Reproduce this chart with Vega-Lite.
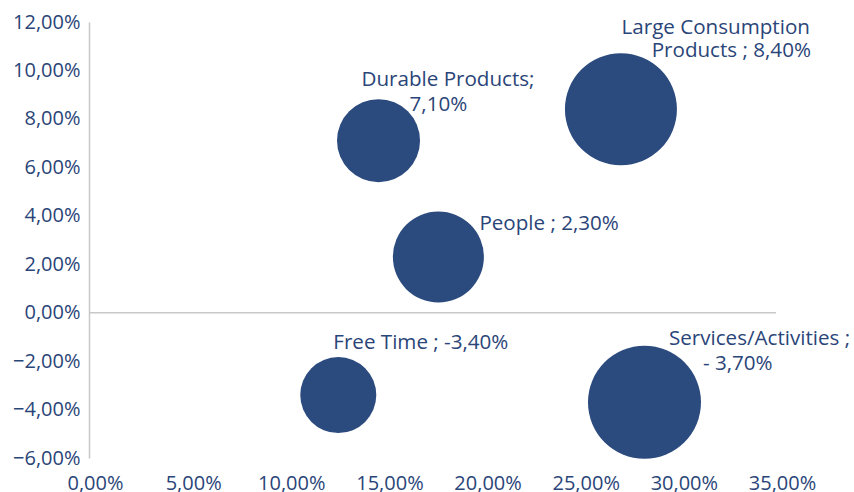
{
  "$schema": "https://vega.github.io/schema/vega-lite/v6.json",
  "width": 687,
  "height": 436,
  "autosize": {"type": "none"},
  "padding": {"left": 89, "top": 22, "right": 78, "bottom": 34},
  "background": "white",
  "config": {
    "view": {"stroke": null},
    "font": "Open Sans",
    "axis": {
      "grid": false,
      "ticks": false,
      "tickSize": 0,
      "labelFont": "Open Sans",
      "labelFontSize": 20,
      "labelColor": "#2A4578",
      "labelOverlap": false,
      "labelFlush": false,
      "title": null,
      "domainColor": "#C8C8C8",
      "domainWidth": 1.5
    },
    "text": {"fontSize": 20.6, "color": "#2A4578", "baseline": "alphabetic", "font": "Open Sans"}
  },
  "data": {
    "values": [
      {"cat": "Durable Products", "share": 14.75, "growth": 7.1, "weight": 68.9, "line1": "Durable Products;", "line2": "7,10%"},
      {"cat": "Large Consumption Products", "share": 27.1, "growth": 8.4, "weight": 125.4, "line1": "Large Consumption", "line2": "Products ; 8,40%"},
      {"cat": "People", "share": 17.8, "growth": 2.3, "weight": 82.8, "line1": "People ; 2,30%", "line2": ""},
      {"cat": "Free Time", "share": 12.7, "growth": -3.4, "weight": 57.8, "line1": "Free Time ; -3,40%", "line2": ""},
      {"cat": "Services/Activities", "share": 28.3, "growth": -3.7, "weight": 127.7, "line1": "Services/Activities ;", "line2": "- 3,70%"}
    ]
  },
  "encoding": {
    "x": {
      "field": "share",
      "type": "quantitative",
      "scale": {"domain": [0, 35], "nice": false, "zero": false},
      "axis": {
        "values": [0, 5, 10, 15, 20, 25, 30, 35],
        "domain": false,
        "labelPadding": 15,
        "labelOffset": 6,
        "labelExpr": "replace(format(datum.value, '.2f'), '.', ',') + '%'"
      }
    },
    "y": {
      "field": "growth",
      "type": "quantitative",
      "scale": {"domain": [-6, 12], "nice": false, "zero": false},
      "axis": {
        "values": [-6, -4, -2, 0, 2, 4, 6, 8, 10, 12],
        "domain": true,
        "labelPadding": 9,
        "labelExpr": "replace(format(datum.value, '.2f'), '.', ',') + '%'"
      }
    }
  },
  "layer": [
    {
      "data": {"values": [{"zero": 0}]},
      "mark": {"type": "rule", "color": "#C8C8C8", "strokeWidth": 1.5},
      "encoding": {"x": null, "y": {"field": "zero", "type": "quantitative"}}
    },
    {
      "mark": {"type": "circle", "color": "#2B4A7E", "opacity": 1},
      "encoding": {
        "size": {
          "field": "weight",
          "type": "quantitative",
          "scale": {"domain": [0, 130], "range": [0, 13000], "zero": true},
          "legend": null
        }
      }
    },
    {
      "transform": [{"filter": "datum.cat === 'Large Consumption Products'"}],
      "mark": {"type": "text", "align": "right", "dx": 189, "dy": -75},
      "encoding": {"text": {"field": "line1"}}
    },
    {
      "transform": [{"filter": "datum.cat === 'Large Consumption Products'"}],
      "mark": {"type": "text", "align": "right", "dx": 190, "dy": -52},
      "encoding": {"text": {"field": "line2"}}
    },
    {
      "transform": [{"filter": "datum.cat === 'Durable Products'"}],
      "mark": {"type": "text", "align": "left", "dx": -17, "dy": -54.5},
      "encoding": {"text": {"field": "line1"}}
    },
    {
      "transform": [{"filter": "datum.cat === 'Durable Products'"}],
      "mark": {"type": "text", "align": "left", "dx": 31, "dy": -29.5},
      "encoding": {"text": {"field": "line2"}}
    },
    {
      "transform": [{"filter": "datum.cat === 'People'"}],
      "mark": {"type": "text", "align": "left", "dx": 41, "dy": -27},
      "encoding": {"text": {"field": "line1"}}
    },
    {
      "transform": [{"filter": "datum.cat === 'Free Time'"}],
      "mark": {"type": "text", "align": "left", "dx": -5, "dy": -46},
      "encoding": {"text": {"field": "line1"}}
    },
    {
      "transform": [{"filter": "datum.cat === 'Services/Activities'"}],
      "mark": {"type": "text", "align": "left", "dx": 24.5, "dy": -57},
      "encoding": {"text": {"field": "line1"}}
    },
    {
      "transform": [{"filter": "datum.cat === 'Services/Activities'"}],
      "mark": {"type": "text", "align": "left", "dx": 58.5, "dy": -32},
      "encoding": {"text": {"field": "line2"}}
    }
  ]
}
